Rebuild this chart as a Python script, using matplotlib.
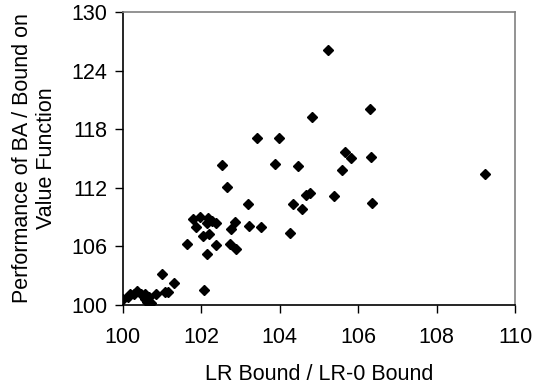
import numpy as np
import matplotlib.pyplot as plt

# LR Bound / LR-0 Bound
lr_ratio = [100.02, 100.14, 100.18, 100.36, 100.30, 100.46, 100.58, 100.56, 100.67,
            100.61, 100.71, 100.85, 101.07, 101.15, 101.01, 101.31,
            101.64, 101.80, 101.97, 101.88, 102.17, 102.14, 102.27, 102.38, 102.86,
            102.21, 102.05, 102.77, 103.23, 103.53, 104.26, 102.38, 102.73, 102.88,
            102.15, 102.08, 102.54, 102.66, 103.19, 104.35, 103.88, 104.47, 103.43,
            103.98, 104.82, 106.31, 105.22, 105.67, 105.82, 106.32, 105.59, 104.77,
            104.67, 105.37, 106.35, 104.56, 109.24]
# Performance of BA / Bound on Value Function
ba_ratio = [100.6, 100.8, 101.1, 101.4, 101.05, 101.05, 101.12, 100.6, 100.8,
            100.3, 100.2, 101.08, 101.25, 101.3, 103.09, 102.25,
            106.2, 108.76, 108.93, 107.97, 108.83, 108.4, 108.6, 108.4, 108.45,
            107.26, 106.99, 107.7, 108.04, 107.97, 107.36, 106.13, 106.23, 105.69,
            105.14, 101.47, 114.36, 112.1, 110.33, 110.3, 114.4, 114.2, 117.1,
            117.1, 119.2, 120.1, 126.1, 115.6, 115.0, 115.15, 113.8, 111.4,
            111.2, 111.1, 110.4, 109.8, 113.4]

plt.rcParams['font.family'] = ['Liberation Sans', 'DejaVu Sans']

fig = plt.figure(figsize=(5.35, 3.9), dpi=100)
ax = fig.add_axes([0.2293, 0.2192, 0.7339, 0.7500])

ax.plot(lr_ratio, ba_ratio, 'D', color='black', markersize=4.6, linestyle='none')

ax.set_xlim(100, 110)
ax.set_ylim(100, 130)
ax.set_xticks(np.arange(100, 111, 2))
ax.set_yticks(np.arange(100, 131, 6))
ax.tick_params(direction='out', length=6, width=1, labelsize=15.5, colors='black')
ax.tick_params(axis='y', pad=5)
ax.tick_params(axis='x', pad=10)

for side in ['left', 'bottom']:
    ax.spines[side].set_color('black')
    ax.spines[side].set_linewidth(1.2)
for side in ['top', 'right']:
    ax.spines[side].set_color('#808080')
    ax.spines[side].set_linewidth(1.2)

ax.set_xlabel("LR Bound / LR-0 Bound", fontsize=15.5)
ax.set_ylabel("Performance of BA / Bound on\nValue Function", fontsize=15.5)
# place axis labels where the reference has them
ax.xaxis.set_label_coords(0.5, -0.205)
ax.yaxis.set_label_coords(-0.167, 0.5)

fig.savefig("out.png", dpi=100)
